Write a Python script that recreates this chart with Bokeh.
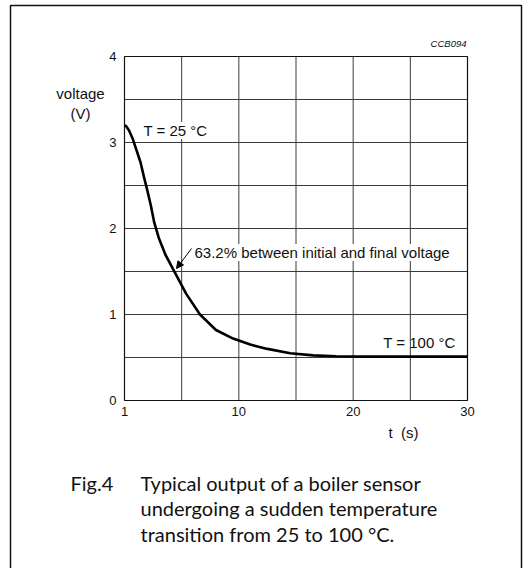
from bokeh.plotting import figure
from bokeh.models import Range1d, Label, Arrow, NormalHead
from bokeh.core.properties import value
from bokeh.embed import file_html
from bokeh.resources import INLINE

# ---- data ----
t_pos = [0, 0.15, 0.4, 0.7, 1.0, 1.4, 1.7, 2.0, 2.3, 2.6, 3.0, 3.6, 4.4, 5.4, 6.6, 8.0, 9.5,
         11.0, 12.5, 14.5, 16.5, 18.5, 21, 25, 30]
voltage = [3.2, 3.19, 3.14, 3.05, 2.93, 2.77, 2.6, 2.44, 2.27, 2.07, 1.89, 1.69, 1.49, 1.24, 1.0,
           0.82, 0.72, 0.65, 0.6, 0.55, 0.525, 0.515, 0.51, 0.51, 0.51]
x_lo, x_hi = 0, 30
y_lo, y_hi = 0, 4
x_ticks = [0, 10, 20, 30]
x_tick_labels = ["1", "10", "20", "30"]
y_ticks = [0, 1, 2, 3, 4]
y_tick_labels = ["0", "1", "2", "3", "4"]
x_grid = [5, 10, 15, 20, 25]
y_grid = [0.5, 1.0, 1.5, 2.0, 2.5, 3.0, 3.5]
annot_start = "T = 25 °C"
annot_end = "T = 100 °C"
annot_mid = "63.2% between initial and final voltage"
y_title = ["voltage", "(V)"]
x_title = "t\u00a0\u00a0(s)"
code_text = "CCB094"
caption_tag = "Fig.4"
caption_lines = ["Typical output of a boiler sensor",
                 "undergoing a sudden temperature",
                 "transition from 25 to 100 °C."]

W, H = 528, 568
L, R, T, B = 124, 467, 56, 400   # pixel frame of the chart area


def fx(px):
    return x_lo + (px - L) / (R - L) * (x_hi - x_lo)


def fy(py):
    return y_lo + (B - py) / (B - T) * (y_hi - y_lo)


p = figure(width=W, height=H, output_backend="svg", toolbar_location=None,
           x_range=Range1d(fx(0), fx(W)), y_range=Range1d(fy(H), fy(0)),
           x_axis_location=None, y_axis_location=None, min_border=0)
p.min_border_left = p.min_border_right = p.min_border_top = p.min_border_bottom = 0
p.grid.visible = False
p.outline_line_color = None
p.background_fill_color = "white"
p.border_fill_color = "white"

INK = "#111111"
SANS = value("Liberation Sans")

# outer box (bottom edge runs off the page)
p.quad(left=[fx(10)], right=[fx(521)], top=[fy(5)], bottom=[fy(H + 40)],
       fill_alpha=0, line_color=INK, line_width=1.5)

# grid
p.segment(x0=x_grid, x1=x_grid, y0=[y_lo] * len(x_grid), y1=[y_hi] * len(x_grid),
          line_color="#3a3a3a", line_width=1)
p.segment(x0=[x_lo] * len(y_grid), x1=[x_hi] * len(y_grid), y0=y_grid, y1=y_grid,
          line_color="#3a3a3a", line_width=1)
# chart frame
p.quad(left=[x_lo], right=[x_hi], bottom=[y_lo], top=[y_hi],
       fill_alpha=0, line_color=INK, line_width=1.2)

# tick labels
p.text(x=x_ticks, y=[y_lo] * len(x_ticks), text=x_tick_labels, text_font=SANS,
       text_font_size="13px", text_align="center", text_baseline="top",
       y_offset=6, text_color=INK)
p.text(x=[x_lo] * len(y_ticks), y=y_ticks, text=y_tick_labels, text_font=SANS,
       text_font_size="13px", text_align="right", text_baseline="middle",
       x_offset=-8, text_color=INK)


def lab(text, px, py, size="15px", font="Liberation Sans", align="left",
        baseline="middle", style="normal", bg=None):
    p.add_layout(Label(x=fx(px), y=fy(py), text=text, text_font=font,
                       text_font_size=size, text_align=align,
                       text_baseline=baseline, text_font_style=style,
                       text_color=INK, background_fill_color=bg))


lab(annot_start, 143, 130, bg="white")
lab(annot_mid, 194, 252, bg="white")
lab(annot_end, 455, 342, align="right")

# curve
p.line(t_pos, voltage, line_color="black", line_width=2.6, line_join="round")

lab(y_title[0], 80, 93, align="center")
lab(y_title[1], 80, 113, align="center")
lab(x_title, 388, 432)
lab(code_text, 466, 43, size="9.5px", align="right", style="italic")

lab(caption_tag, 70, 482, size="20px", font="Lato")
for i, line in enumerate(caption_lines):
    lab(line, 140, 482 + i * 25.5, size="20px", font="Lato")

p.add_layout(Arrow(end=NormalHead(size=7, line_color="black", fill_color="black"),
                   x_start=fx(191), y_start=fy(248), x_end=fx(176), y_end=fy(268),
                   line_color="black", line_width=1))

open("out.html", "w").write(file_html(p, INLINE))
